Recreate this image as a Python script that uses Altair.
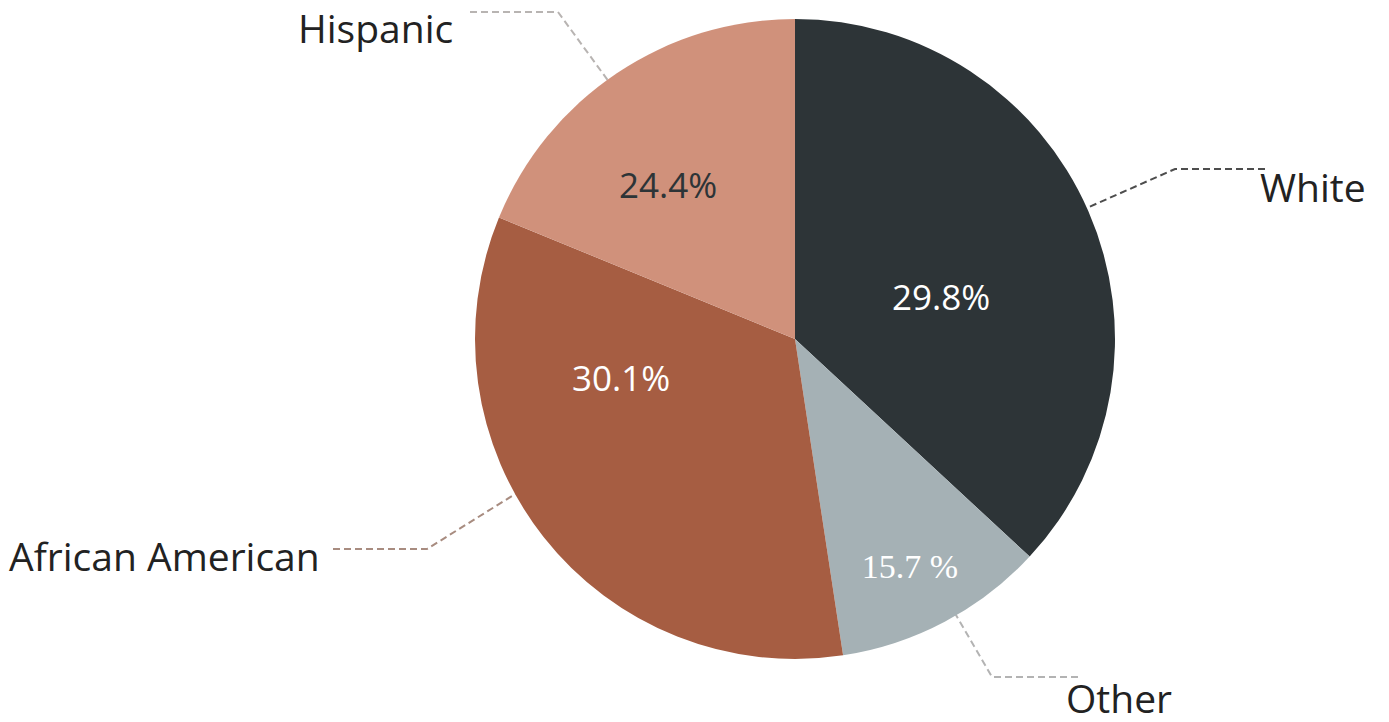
import altair as alt
import pandas as pd

# ---- data ----
categories = ["White", "Other", "African American", "Hispanic"]
slice_share = [36.9, 10.7, 33.6, 18.8]          # visible share of the disc (%)
printed_pct = ["29.8%", "15.7 %", "30.1%", "24.4%"]  # percentages printed on slices
slice_colors = ["#2d3437", "#a5b1b5", "#a65d42", "#d0917b"]

# ---- layout ----
OFF = 8
W, H = 1389 - 2 * OFF, 722 - 2 * OFF
CENTER = (795, 338)
RADIUS = 320

xs = alt.Scale(domain=[OFF, OFF + W], range=[0, W])
ys = alt.Scale(domain=[OFF, OFF + H], range=[0, H])

# category label anchors (left, baseline)
cat_label_x = [1260, 1066, 9, 298]
cat_label_y = [201, 712, 570, 42]
# percent label anchors (center, baseline)
pct_label_x = [941, 910, 621, 668]
pct_label_y = [309, 577, 390, 197]
pct_font = ["Open Sans", "Liberation Serif", "Open Sans", "Open Sans"]
pct_size = [35, 34, 35, 35]
pct_color = ["#ffffff", "#ffffff", "#ffffff", "#2d3437"]

# leader lines: label end -> elbow -> pie edge (drawn under the pie)
leader_x = [[1265, 1175, 1080], [1078, 992, 945], [333, 427, 520], [470, 558, 620]]
leader_y = [[168, 168, 210], [676, 676, 595], [548, 548, 490], [11, 11, 96]]
leader_color = ["#4d4d4d", "#b3b3b3", "#a88c80", "#b8b4b2"]

pie_df = pd.DataFrame({"cat": categories, "share": slice_share,
                       "ord": list(range(len(categories)))})

lines_rows = []
for i, cat in enumerate(categories):
    for j, (lx, ly) in enumerate(zip(leader_x[i], leader_y[i])):
        lines_rows.append({"cat": cat, "seq": j, "x": lx, "y": ly, "col": leader_color[i]})
lines_df = pd.DataFrame(lines_rows)

cat_df = pd.DataFrame({"cat": categories, "x": cat_label_x, "y": cat_label_y})

lines = alt.Chart(lines_df).mark_line(strokeDash=[7, 4], strokeWidth=2).encode(
    x=alt.X("x:Q", scale=xs, axis=None),
    y=alt.Y("y:Q", scale=ys, axis=None),
    detail="cat:N",
    order="seq:Q",
    color=alt.Color("col:N", scale=None),
)

pie = alt.Chart(pie_df).mark_arc(outerRadius=RADIUS).encode(
    theta=alt.Theta("share:Q", stack=True),
    color=alt.Color("cat:N", scale=alt.Scale(domain=categories, range=slice_colors), legend=None),
    order=alt.Order("ord:Q"),
    x=alt.value(CENTER[0] - OFF),
    y=alt.value(CENTER[1] - OFF),
)

cat_text = alt.Chart(cat_df).mark_text(
    align="left", baseline="alphabetic", font="Open Sans", fontSize=39, color="#222222"
).encode(
    x=alt.X("x:Q", scale=xs, axis=None),
    y=alt.Y("y:Q", scale=ys, axis=None),
    text="cat:N",
)

pct_layers = []
for i in range(len(categories)):
    d = pd.DataFrame({"t": [printed_pct[i]], "x": [pct_label_x[i]], "y": [pct_label_y[i]]})
    pct_layers.append(
        alt.Chart(d).mark_text(
            align="center", baseline="alphabetic", font=pct_font[i],
            fontSize=pct_size[i], color=pct_color[i]
        ).encode(
            x=alt.X("x:Q", scale=xs, axis=None),
            y=alt.Y("y:Q", scale=ys, axis=None),
            text="t:N",
        )
    )

chart = alt.layer(lines, pie, cat_text, *pct_layers).properties(
    width=W, height=H, padding=0
).configure_view(stroke=None)

chart.save("out.html", embed_options={"renderer": "svg", "actions": False})
